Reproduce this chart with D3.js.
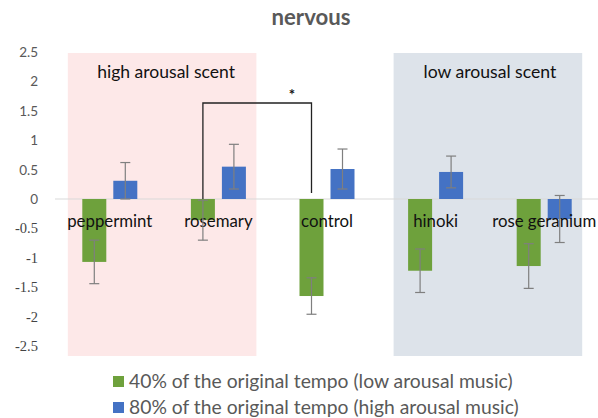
<!DOCTYPE html>
<html><head><meta charset="utf-8">
<script src="https://cdn.jsdelivr.net/npm/d3@7"></script>
<style>body{margin:0;background:#fff}svg{display:block}</style>
</head><body>
<svg id="c" width="598" height="418"></svg>
<script>
const categories = ["peppermint","rosemary","control","hinoki","rose geranium"];
const seriesNames = ["40% of the original tempo (low arousal music)","80% of the original tempo (high arousal music)"];
const lowMusic = [-1.07,-0.36,-1.65,-1.22,-1.14];
const lowErr = [0.37,0.34,0.31,0.37,0.38];
const highMusic = [0.31,0.55,0.51,0.46,-0.34];
const highErr = [0.31,0.38,0.34,0.27,0.40];
const yTicks = [2.5,2,1.5,1,0.5,0,-0.5,-1,-1.5,-2,-2.5];
const regions = [{label:"high arousal scent", from:0, to:1, color:"#fde8e8"},
                 {label:"low arousal scent", from:3, to:4, color:"#dde3ea"}];
const colors = ["#6ea13c","#4472c4"];

const svg = d3.select("#c");
const font = "Lato, 'Open Sans', sans-serif";
// scale a text's font size so it spans the given width
function fit(sel, width) {
  sel.each(function() {
    const s0 = parseFloat(this.getAttribute("font-size"));
    const w = this.getComputedTextLength();
    if (w > 0) this.setAttribute("font-size", (s0 * width / w).toFixed(2));
  });
  return sel;
}
const x = d3.scaleBand().domain(categories).range([55.5, 598.5]).paddingInner(0).paddingOuter(0);
const y = d3.scaleLinear().domain([-2.5, 2.5]).range([346, 52]);
const barW = 24, gap = 7;
const xs = d3.scaleOrdinal().domain([0,1]).range([-(barW+gap)/2, (barW+gap)/2]);

// region backgrounds
regions.forEach((r, ri) => {
  const c0 = x(categories[r.from]) + x.bandwidth()/2;
  const c1 = x(categories[r.to]) + x.bandwidth()/2;
  const x0 = c0 - 42, x1 = c1 + 38;
  svg.append("rect").attr("x", x0).attr("y", 53).attr("width", x1 - x0).attr("height", 303).attr("fill", r.color);
  const t = svg.append("text").attr("x", (x0+x1)/2 + (ri ? 2 : 4)).attr("y", 78).attr("text-anchor","middle")
    .attr("font-family", font).attr("font-size", 16).attr("fill","#111").text(r.label);
  fit(t, ri ? 133 : 138);
});

// title
fit(svg.append("text").attr("x", 311).attr("y", 25).attr("text-anchor","middle")
  .attr("font-family", font).attr("font-weight","bold").attr("font-size", 18).attr("fill","#595959").text("nervous"), 79);

// y tick labels
svg.selectAll(".yt").data(yTicks).enter().append("text")
  .attr("x", 38).attr("y", d => y(d) + 5).attr("text-anchor","end")
  .attr("font-family", d => d < 0 ? "'Liberation Serif', serif" : font)
  .attr("font-size", d => d < 0 ? 14.5 : 13.5).attr("fill", d => d < 0 ? "#444" : "#595959")
  .text(d => d);

// zero line
svg.append("line").attr("x1", 55).attr("x2", 598).attr("y1", y(0)).attr("y2", y(0))
  .attr("stroke","#d9d9d9").attr("stroke-width",1);

const series = [lowMusic, highMusic];
const errs = [lowErr, highErr];
series.forEach((vals, si) => {
  const g = svg.append("g");
  g.selectAll("rect").data(vals).enter().append("rect")
    .attr("x", (d,i) => x(categories[i]) + x.bandwidth()/2 + xs(si) - barW/2)
    .attr("y", d => Math.min(y(d), y(0)))
    .attr("width", barW)
    .attr("height", d => Math.abs(y(d) - y(0)))
    .attr("fill", colors[si]);
});

// category labels
svg.selectAll(".cl").data(categories).enter().append("text")
  .attr("x", d => x(d) + x.bandwidth()/2).attr("y", 227).attr("text-anchor","middle")
  .attr("font-family", font).attr("font-size", 16.8).attr("fill","#111").text(d => d);

// error bars
series.forEach((vals, si) => {
  vals.forEach((v, i) => {
    const cx = x(categories[i]) + x.bandwidth()/2 + xs(si);
    const e = errs[si][i];
    const g = svg.append("g").attr("stroke","#7f7f7f").attr("stroke-width",1.2);
    g.append("line").attr("x1",cx).attr("x2",cx).attr("y1",y(v+e)).attr("y2",y(v-e));
    g.append("line").attr("x1",cx-5).attr("x2",cx+5).attr("y1",y(v+e)).attr("y2",y(v+e));
    g.append("line").attr("x1",cx-5).attr("x2",cx+5).attr("y1",y(v-e)).attr("y2",y(v-e));
  });
});

// significance bracket between rosemary (low) and control (low)
const bx0 = x("rosemary") + x.bandwidth()/2 + xs(0);
const bx1 = x("control") + x.bandwidth()/2 + xs(0);
svg.append("path").attr("d", `M${bx0},${y(0)} V103 H${bx1} V193`)
  .attr("fill","none").attr("stroke","#222").attr("stroke-width",1.3);
svg.append("text").attr("x", 292).attr("y", 100).attr("text-anchor","middle")
  .attr("font-family", font).attr("font-weight","bold").attr("font-size", 15).attr("fill","#111").text("*");

// legend
seriesNames.forEach((n, i) => {
  const ly = 376 + i*26;
  svg.append("rect").attr("x", 113).attr("y", ly).attr("width", 11).attr("height", 11).attr("fill", colors[i]);
  fit(svg.append("text").attr("x", 129).attr("y", ly + 11.5).attr("font-family", font).attr("font-size", 19)
    .attr("fill","#595959").text(n), i ? 390 : 384);
});
</script>
</body></html>
